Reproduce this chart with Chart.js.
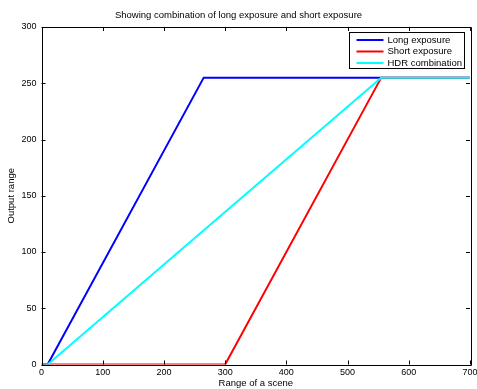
<!DOCTYPE html>
<html>
<head>
<meta charset="utf-8">
<script src="https://cdn.jsdelivr.net/npm/chart.js@4.4.1/dist/chart.umd.min.js"></script>
<style>
  html, body { margin: 0; padding: 0; background: #fff; }
  #wrap { width: 477px; height: 389px; }
</style>
</head>
<body>
<div id="wrap"><canvas id="c"></canvas></div>
<script>
const FONT = "'Liberation Sans', Arial, sans-serif";

const xTicks = [0, 100, 200, 300, 400, 500, 600, 700];
const yTicks = [0, 50, 100, 150, 200, 250, 300];

const seriesNames = ['Long exposure', 'Short exposure', 'HDR combination'];
const seriesColors = ['#0000ff', '#ff0000', '#00ffff'];

const longX = [0, 10, 265, 700];
const longY = [0, 0, 255, 255];
const shortX = [0, 300, 555, 700];
const shortY = [0, 0, 255, 255];
const hdrX = [0, 10, 555, 700];
const hdrY = [0, 0, 255, 255];

const pts = (xs, ys) => xs.map((x, i) => ({ x, y: ys[i] }));

// matlab style: full box + inward ticks + legend box inside the axes
const boxPlugin = {
    id: 'box',
    afterDraw(chart) {
        const { ctx, chartArea: a, scales } = chart;
        ctx.save();
        ctx.strokeStyle = '#000';
        ctx.lineWidth = 1;
        ctx.beginPath();
        ctx.rect(Math.round(a.left) + 0.5, Math.round(a.top) + 0.5, Math.round(a.right - a.left), Math.round(a.bottom - a.top));
        ctx.stroke();
        const tl = 4;
        ctx.beginPath();
        xTicks.forEach(v => {
            const px = Math.round(scales.x.getPixelForValue(v)) + 0.5;
            ctx.moveTo(px, a.bottom); ctx.lineTo(px, a.bottom - tl);
            ctx.moveTo(px, a.top); ctx.lineTo(px, a.top + tl);
        });
        yTicks.forEach(v => {
            const py = Math.round(scales.y.getPixelForValue(v)) + 0.5;
            ctx.moveTo(a.left, py); ctx.lineTo(a.left + tl, py);
            ctx.moveTo(a.right, py); ctx.lineTo(a.right - tl, py);
        });
        ctx.stroke();

        // legend
        const bw = 115, bh = 36;
        const bx = Math.round(a.right - 6 - bw) + 0.5, by = Math.round(a.top + 5) + 0.5;
        ctx.fillStyle = '#fff';
        ctx.fillRect(bx, by, bw, bh);
        ctx.strokeStyle = '#000';
        ctx.strokeRect(bx, by, bw, bh);
        ctx.font = '9.5px ' + FONT;
        ctx.textBaseline = 'middle';
        seriesNames.forEach((name, i) => {
            const ly = by + 7.5 + i * 11.5;
            ctx.strokeStyle = seriesColors[i];
            ctx.lineWidth = 2;
            ctx.beginPath();
            ctx.moveTo(bx + 7, ly); ctx.lineTo(bx + 34, ly);
            ctx.stroke();
            ctx.fillStyle = '#000';
            ctx.fillText(name, bx + 38, ly);
        });
        ctx.restore();
    }
};

new Chart(document.getElementById('c'), {
    type: 'line',
    data: {
        datasets: [
            { label: seriesNames[0], data: pts(longX, longY), borderColor: seriesColors[0], order: 2 },
            { label: seriesNames[1], data: pts(shortX, shortY), borderColor: seriesColors[1], order: 1 },
            { label: seriesNames[2], data: pts(hdrX, hdrY), borderColor: seriesColors[2], order: 0 }
        ]
    },
    options: {
        responsive: true,
        maintainAspectRatio: false,
        animation: false,
        elements: {
            line: { borderWidth: 2, tension: 0, fill: false },
            point: { radius: 0 }
        },
        layout: { padding: 0 },
        plugins: {
            legend: { display: false },
            tooltip: { enabled: false },
            title: {
                display: true,
                text: 'Showing combination of long exposure and short exposure',
                color: '#000',
                font: { family: FONT, size: 9.5, weight: 'normal' },
                padding: { top: 10, bottom: 5.6 }
            }
        },
        scales: {
            x: {
                type: 'linear',
                min: 0, max: 700,
                afterBuildTicks: s => { s.ticks = xTicks.map(v => ({ value: v })); },
                afterFit: s => { s.height = 24.5; s.paddingLeft = 0; s.paddingRight = 7; },
                grid: { display: false, drawTicks: false },
                border: { display: false },
                ticks: { color: '#000', padding: 3, maxRotation: 0, font: { family: FONT, size: 9 } },
                title: { display: true, text: 'Range of a scene', color: '#000', padding: 0, font: { family: FONT, size: 9.5 } }
            },
            y: {
                type: 'linear',
                min: 0, max: 300,
                afterBuildTicks: s => { s.ticks = yTicks.map(v => ({ value: v })); },
                afterFit: s => { s.width = 41.5; },
                grid: { display: false, drawTicks: false },
                border: { display: false },
                ticks: { color: '#000', padding: 5, font: { family: FONT, size: 9 } },
                title: { display: true, text: 'Output range', color: '#000', padding: { top: 6, bottom: 0 }, font: { family: FONT, size: 9.5 } }
            }
        }
    },
    plugins: [boxPlugin]
});
</script>
</body>
</html>
